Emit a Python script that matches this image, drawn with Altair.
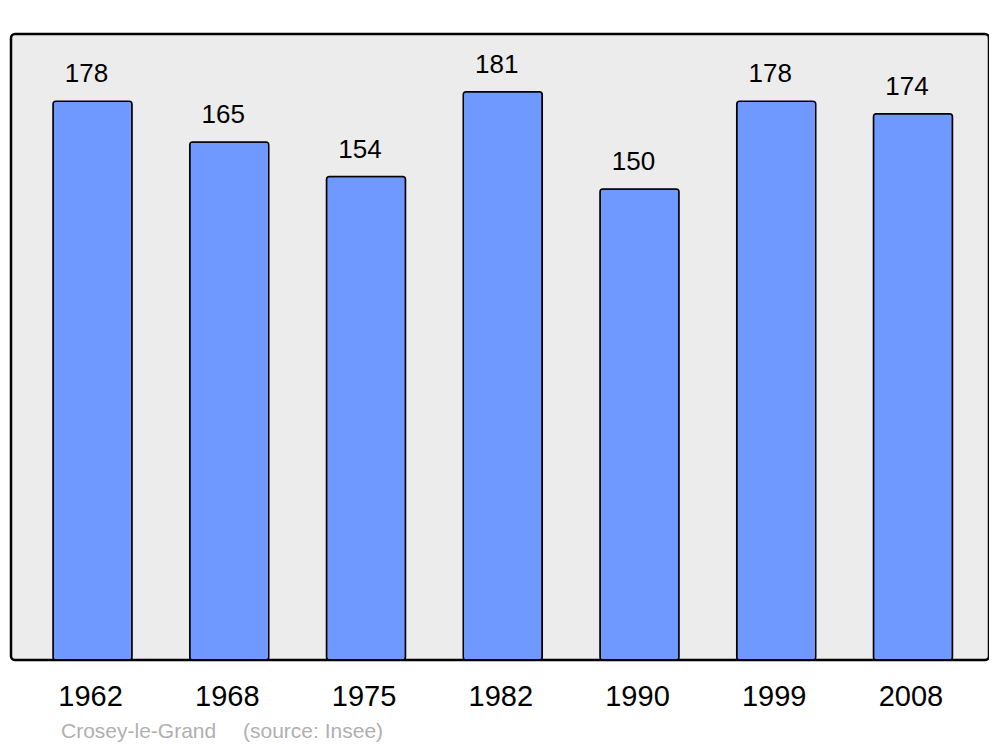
import altair as alt
import pandas as pd

years = ["1962", "1968", "1975", "1982", "1990", "1999", "2008"]
population = [178, 165, 154, 181, 150, 178, 174]
source_name = "Crosey-le-Grand"
source_note = "(source: Insee)"

df = pd.DataFrame({"year": years, "pop": population})

FONT = "Liberation Sans"

x = alt.X("year:N", sort=years,
          scale=alt.Scale(paddingInner=0.422, paddingOuter=0.287, align=0.535),
          axis=alt.Axis(title=None, labelAngle=0, ticks=False, tickSize=0, domain=False,
                        labelFontSize=29, labelColor="black", labelFont=FONT,
                        labelBaseline="alphabetic", labelPadding=45, labelOffset=-2))
y = alt.Y("pop:Q", scale=alt.Scale(domain=[0, 199.4], nice=False, zero=True),
          axis=None)

bars = alt.Chart(df).mark_bar(
    color="#7099ff", stroke="black", strokeWidth=1.5, cornerRadius=3
).encode(x=x, y=y)

labels = alt.Chart(df).mark_text(
    fontSize=26, font=FONT, color="black", baseline="alphabetic", dy=-19, dx=-6
).encode(x=x, y=y, text="pop:Q")

src1 = alt.Chart(pd.DataFrame({"t": [source_name]})).mark_text(
    fontSize=21, font=FONT, color="#b0b0b0", align="left", baseline="alphabetic"
).encode(x=alt.value(50), y=alt.value(704), text="t:N")

src2 = alt.Chart(pd.DataFrame({"t": [source_note]})).mark_text(
    fontSize=21, font=FONT, color="#b0b0b0", align="left", baseline="alphabetic"
).encode(x=alt.value(232), y=alt.value(704), text="t:N")

chart = alt.layer(bars, labels, src1, src2).properties(
    width=978, height=626,
    autosize=alt.AutoSizeParams(type="none"),
    padding={"left": 3, "top": 26, "right": 0, "bottom": 90},
).configure_view(
    fill="#ececec", stroke="black", strokeWidth=2.5, cornerRadius=4
)

chart.save("out.html", embed_options={"renderer": "svg", "actions": False})
